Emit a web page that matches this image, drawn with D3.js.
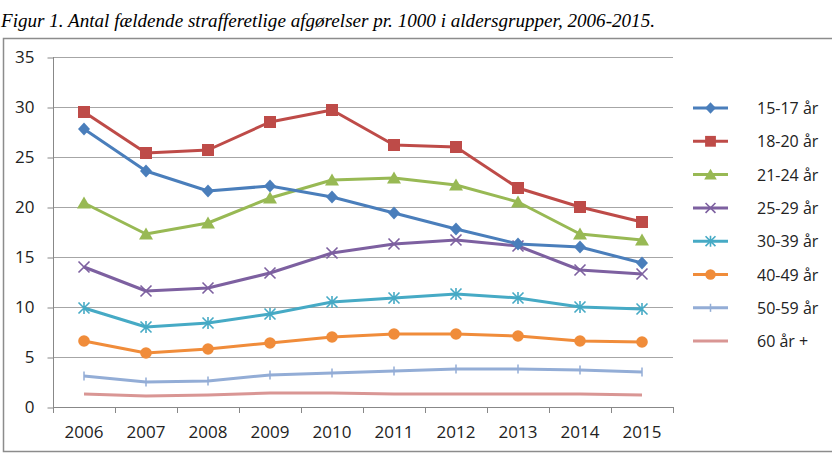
<!DOCTYPE html>
<html><head><meta charset="utf-8">
<script src="https://cdn.jsdelivr.net/npm/d3@7"></script>
<style>body{margin:0;background:#fff}svg{display:block}</style>
</head><body><svg id="c" width="832" height="468"></svg>
<script>
const years = ["2006","2007","2008","2009","2010","2011","2012","2013","2014","2015"];
const yTicks = [0,5,10,15,20,25,30,35];
const seriesNames = ["15-17 år","18-20 år","21-24 år","25-29 år","30-39 år","40-49 år","50-59 år","60 år +"];
const s1517 = [27.8,23.6,21.6,22.1,21.0,19.4,17.8,16.3,16.0,14.4];
const s1820 = [29.5,25.4,25.7,28.5,29.7,26.2,26.0,21.9,20.0,18.5];
const s2124 = [20.4,17.3,18.4,20.9,22.7,22.9,22.2,20.5,17.3,16.7];
const s2529 = [14.0,11.6,11.9,13.4,15.4,16.3,16.7,16.1,13.7,13.3];
const s3039 = [9.9,8.0,8.4,9.3,10.5,10.9,11.3,10.9,10.0,9.8];
const s4049 = [6.6,5.4,5.8,6.4,7.0,7.3,7.3,7.1,6.6,6.5];
const s5059 = [3.1,2.5,2.6,3.2,3.4,3.6,3.8,3.8,3.7,3.5];
const s60 = [1.3,1.1,1.2,1.4,1.4,1.3,1.3,1.3,1.3,1.2];
const seriesValues = [s1517,s1820,s2124,s2529,s3039,s4049,s5059,s60];
const colors = ["#4A7EBB","#BE4B48","#98B954","#7D60A0","#46AAC5","#F08C3A","#93ADD6","#D99694"];
const markers = ["diamond","square","triangle","x","star","circle","plus","none"];

const svg = d3.select("#c");
const font = "'Open Sans', sans-serif";

svg.append("text").attr("x",1).attr("y",27)
  .attr("font-family","'Liberation Serif', serif").attr("font-style","italic")
  .attr("font-size",19.5).attr("textLength",654).attr("lengthAdjust","spacingAndGlyphs")
  .attr("fill","#000")
  .text("Figur 1. Antal fældende strafferetlige afgørelser pr. 1000 i aldersgrupper, 2006-2015.");

svg.append("rect").attr("x",3.5).attr("y",38.5).attr("width",840).attr("height",413)
  .attr("fill","none").attr("stroke","#8c8c8c").attr("stroke-width",1.5);

const x = d3.scaleBand().domain(years).range([53,673]);
const y = d3.scaleLinear().domain([0,35]).range([407,57]);

const g = svg.append("g");
g.selectAll("line.grid").data(yTicks.filter(d=>d>0)).join("line")
  .attr("x1",53).attr("x2",673).attr("y1",d=>y(d)+0.5).attr("y2",d=>y(d)+0.5)
  .attr("stroke","#a6a6a6").attr("stroke-width",1);

const yAxis = g.append("g").attr("transform","translate(53.5,0.5)")
  .call(d3.axisLeft(y).tickValues(yTicks).tickSize(6).tickPadding(13).tickFormat(d3.format("d")));
yAxis.select(".domain").attr("stroke","#888").attr("d","M0,"+(y(35)-0.5)+"V"+(y(0)-0.5));
yAxis.selectAll(".tick line").attr("stroke","#888");
yAxis.selectAll("text").attr("font-family",font).attr("font-size",17).attr("fill","#222");

const xAxis = g.append("g").attr("transform","translate(0,407.5)")
  .call(d3.axisBottom(x).tickSize(0).tickPadding(18));
xAxis.select(".domain").attr("stroke","#888").attr("d","M53,0H673");
xAxis.selectAll("text").attr("font-family",font).attr("font-size",17).attr("fill","#222");
g.selectAll("line.xt").data(d3.range(years.length+1)).join("line")
  .attr("x1",i=>53+i*x.step()+0.5).attr("x2",i=>53+i*x.step()+0.5)
  .attr("y1",407).attr("y2",413).attr("stroke","#888");

function drawMarker(sel, type, color, cx, cy, sc){
  sc = sc||1;
  if(type==="diamond"){
    sel.append("path").attr("d",`M${cx},${cy-6.5*sc}L${cx+6*sc},${cy}L${cx},${cy+6.5*sc}L${cx-6*sc},${cy}Z`).attr("fill",color);
  } else if(type==="square"){
    sel.append("rect").attr("x",cx-6*sc).attr("y",cy-6*sc).attr("width",12*sc).attr("height",12*sc).attr("fill",color);
  } else if(type==="triangle"){
    sel.append("path").attr("d",`M${cx},${cy-6.5*sc}L${cx+7*sc},${cy+5.5*sc}L${cx-7*sc},${cy+5.5*sc}Z`).attr("fill",color);
  } else if(type==="circle"){
    sel.append("circle").attr("cx",cx).attr("cy",cy).attr("r",5.8*sc).attr("fill",color);
  } else if(type==="x"){
    const r=5.5*sc;
    sel.append("path").attr("d",`M${cx-r},${cy-r}L${cx+r},${cy+r}M${cx-r},${cy+r}L${cx+r},${cy-r}`).attr("stroke",color).attr("stroke-width",1.6).attr("fill","none");
  } else if(type==="star"){
    const r=5.5*sc;
    sel.append("path").attr("d",`M${cx-r},${cy-r}L${cx+r},${cy+r}M${cx-r},${cy+r}L${cx+r},${cy-r}M${cx},${cy-r*1.1}V${cy+r*1.1}`).attr("stroke",color).attr("stroke-width",1.6).attr("fill","none");
  } else if(type==="plus"){
    const r=4.5*sc;
    sel.append("path").attr("d",`M${cx},${cy-r}V${cy+r}`).attr("stroke",color).attr("stroke-width",1.5).attr("fill","none");
  }
}

const line = d3.line().x((d,i)=>x(years[i])+x.bandwidth()/2).y(d=>y(d));
for(let k=seriesValues.length-1;k>=0;k--){
  const sg = g.append("g");
  sg.append("path").datum(seriesValues[k]).attr("d",line)
    .attr("fill","none").attr("stroke",colors[k]).attr("stroke-width",3).attr("stroke-linejoin","round");
  seriesValues[k].forEach((v,i)=>drawMarker(sg,markers[k],colors[k],x(years[i])+x.bandwidth()/2,y(v)));
}

const leg = svg.append("g");
seriesNames.forEach((n,k)=>{
  const ly = 108 + k*33.3;
  const lg = leg.append("g");
  lg.append("line").attr("x1",693).attr("x2",728).attr("y1",ly).attr("y2",ly)
    .attr("stroke",colors[k]).attr("stroke-width",3);
  drawMarker(lg,markers[k],colors[k],710.5,ly,0.9);
  lg.append("text").attr("x",757).attr("y",ly+6).attr("font-family",font).attr("font-size",16)
    .attr("fill","#222").text(n);
});
</script></body></html>
